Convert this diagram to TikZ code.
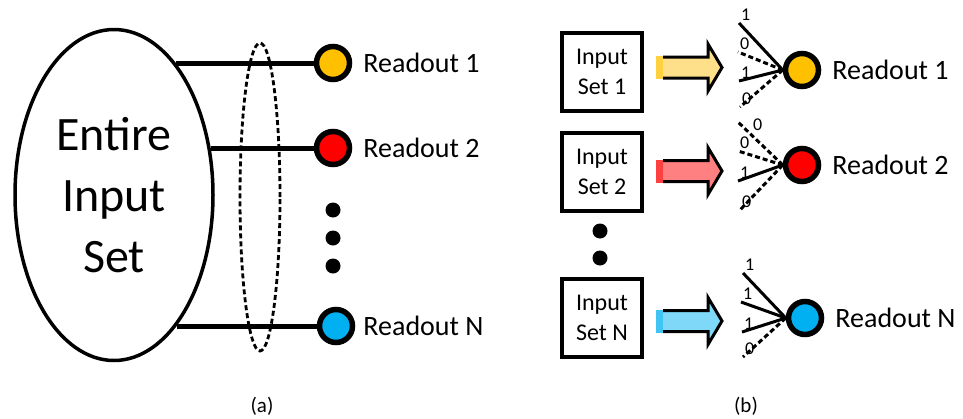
\documentclass[tikz,border=0pt]{standalone}
\usepackage{fontspec}
\setmainfont{Carlito}
\usepackage{tikz}
\usetikzlibrary{arrows}
\usetikzlibrary{positioning}
\usetikzlibrary{shapes.geometric}

\definecolor{outgold}{HTML}{FFC000}
\definecolor{outred}{HTML}{FF0000}
\definecolor{outblue}{HTML}{00B0F0}
\definecolor{feedgold}{HTML}{FFE08A}
\definecolor{feedred}{HTML}{FF8080}
\definecolor{feedblue}{HTML}{80D8F8}

% block arrow from a box to its readout: start, body colour, tail colour
\newcommand{\feedarrow}[3]{%
  \fill[#3] (#1) ++(-7,-11.5) rectangle ++(8,23);
  \filldraw[fill=#2,line width=3pt] (#1) ++(0,-10.5) -- ++(45,0) -- ++(0,-13)
    -- ++(14,23.5) -- ++(-14,23.5) -- ++(0,-13) -- ++(-45,0);
}

\begin{document}
\begin{tikzpicture}[x=1pt,y=-1pt,
  set node/.style={ellipse,draw,line width=3.5pt,minimum width=198pt,minimum height=331pt,
    align=center,font=\fontsize{48}{61}\selectfont},
  group node/.style={ellipse,draw,line width=2.8pt,dash pattern=on 5pt off 3pt,
    minimum width=40pt,minimum height=308pt},
  readout node/.style={circle,draw,line width=5.5pt,minimum size=33pt,inner sep=0pt},
  name node/.style={inner sep=0pt,font=\fontsize{28}{34}\selectfont},
  input node/.style={draw,line width=4pt,minimum width=80pt,minimum height=78pt,
    align=center,font=\fontsize{24}{30}\selectfont},
  dot node/.style={circle,fill,minimum size=15pt,inner sep=0pt},
  bit label/.style={anchor=base west,inner sep=0pt,xshift=2pt,yshift=3pt,
    font=\fontsize{18}{18}\selectfont},
  caption node/.style={inner sep=0pt,font=\fontsize{21}{24}\selectfont},
  wire/.style={line width=5pt},
  one wire/.style={line width=3pt},
  zero wire/.style={line width=3pt,dash pattern=on 5pt off 3pt}]

  \useasboundingbox (0,0) rectangle (963,418);

  % (a) one readout layer on the whole input set
  \node[set node] (set) at (114,195) {Entire\\Input\\Set};
  \node[readout node,fill=outgold] (r1) at (333,63) {};
  \node[readout node,fill=outred] (r2) at (333,148) {};
  \node[readout node,fill=outblue] (rn) at (336,326) {};
  \node[name node] (r1t) [right=11pt of r1] {Readout 1};
  \node[name node] (r2t) [right=11pt of r2] {Readout 2};
  \node[name node] (rnt) [right=8pt of rn] {Readout N};
  \node[dot node] (d1) at (333,210) {};
  \node[dot node] (d2) at (333,238) {};
  \node[dot node] (d3) at (333,266) {};

  \path[wire]
    (r1) edge (r1 -| set.65)
    (r2) edge (r2 -| set.26)
    (rn) edge (rn -| set.-64.5);
  \node[group node] (grp) at (260,197) {};

  \node[caption node] (capa) at (262,406) {(a)};

  % (b) one readout per input set
  \node[input node] (b1) at (602,72) {Input\\Set 1};
  \node[input node] (b2) at (602,172) {Input\\Set 2};
  \node[input node] (bn) at (602,318) {Input\\Set N};
  \node[dot node] (d4) at (600,231) {};
  \node[dot node] (d5) at (600,258) {};

  \coordinate (f1) at (663,67.5);
  \coordinate (f2) at (663,171);
  \coordinate (fn) at (663,321);
  \feedarrow{f1}{feedgold}{outgold!75}
  \feedarrow{f2}{feedred}{outred!75}
  \feedarrow{fn}{feedblue}{outblue!75}

  \node[readout node,fill=outgold] (rb1) at (802,70) {};
  \node[readout node,fill=outred] (rb2) at (802,165) {};
  \node[readout node,fill=outblue] (rbn) at (805,318) {};
  \node[name node] (rb1t) [right=11pt of rb1] {Readout 1};
  \node[name node] (rb2t) [right=11pt of rb2] {Readout 2};
  \node[name node] (rbnt) [right=11pt of rbn] {Readout N};

  % weights feeding each readout
  \coordinate (a11) at (739,23);
  \coordinate (a12) at (738,52);
  \coordinate (a13) at (739,81);
  \coordinate (a14) at (740,107);
  \coordinate (a21) at (738,122);
  \coordinate (a22) at (738,151);
  \coordinate (a23) at (738,181);
  \coordinate (a24) at (740,210);
  \coordinate (a31) at (743,273);
  \coordinate (a32) at (741,302);
  \coordinate (a33) at (742,332);
  \coordinate (a34) at (743,357);

  \path (rb1.west) edge[one wire] (a11) edge[zero wire] (a12)
    edge[one wire] (a13) edge[zero wire] (a14);
  \path (rb2.west) edge[zero wire] (a21) edge[zero wire] (a22)
    edge[one wire] (a23) edge[zero wire] (a24);
  \path (rbn.west) edge[one wire] (a31) edge[one wire] (a32)
    edge[one wire] (a33) edge[zero wire] (a34);

  \node[bit label] (l11) at (a11) {1};
  \node[bit label] (l12) at (a12) {0};
  \node[bit label] (l13) at (a13) {1};
  \node[bit label] (l14) at (a14) {0};
  \node[bit label,xshift=13pt,yshift=-11pt] (l21) at (a21) {0};
  \node[bit label] (l22) at (a22) {0};
  \node[bit label] (l23) at (a23) {1};
  \node[bit label] (l24) at (a24) {0};
  \node[bit label] (l31) at (a31) {1};
  \node[bit label] (l32) at (a32) {1};
  \node[bit label] (l33) at (a33) {1};
  \node[bit label] (l34) at (a34) {0};

  \node[caption node] (capb) at (746,406) {(b)};
\end{tikzpicture}
\end{document}
